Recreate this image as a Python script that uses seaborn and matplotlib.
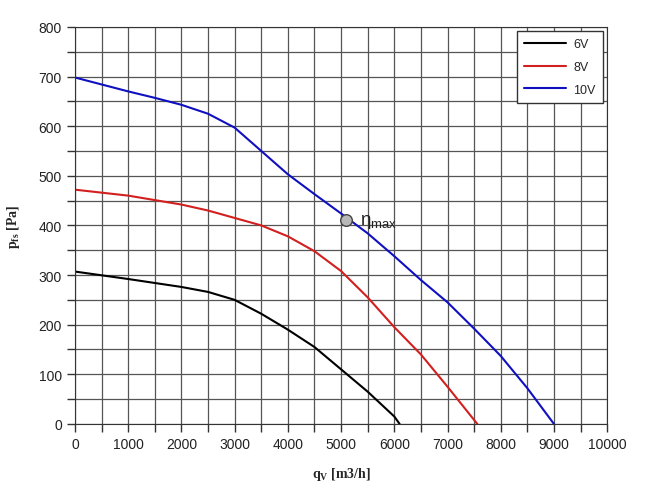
import pandas as pd
import matplotlib.pyplot as plt
import seaborn as sns
from matplotlib.ticker import MultipleLocator

# Fan curves (q_V in m3/h, p_fs in Pa)
q_6v = [0, 1000, 2000, 2500, 3000, 3500, 4000, 4500, 5000, 5500, 6000, 6100]
p_6v = [307, 292, 276, 266, 250, 222, 190, 155, 110, 65, 15, 0]

q_8v = [0, 1000, 2000, 2500, 3000, 3500, 4000, 4500, 5000, 5500, 6000, 6500, 7000, 7500, 7560]
p_8v = [472, 460, 442, 430, 415, 400, 378, 348, 308, 255, 195, 140, 75, 8, 0]

q_10v = [0, 500, 1000, 1500, 2000, 2500, 3000, 3500, 4000, 4500, 5000, 5500, 6000, 6500, 7000, 7500, 8000, 8500, 9000]
p_10v = [698, 684, 670, 657, 643, 625, 597, 550, 503, 463, 424, 384, 338, 290, 245, 192, 137, 72, 0]

eta_q = [5100]
eta_p = [410]

frames = []
for name, q, p in [("6V", q_6v, p_6v), ("8V", q_8v, p_8v), ("10V", q_10v, p_10v)]:
    frames.append(pd.DataFrame({"q": q, "p": p, "voltage": name}))
df = pd.concat(frames, ignore_index=True)

sns.set_style("white")
plt.rcParams["font.family"] = ["Liberation Sans", "DejaVu Sans"]
plt.rcParams["mathtext.fontset"] = "custom"
plt.rcParams["mathtext.rm"] = "Liberation Serif:bold"
plt.rcParams["mathtext.it"] = "Liberation Serif:bold"
plt.rcParams["mathtext.sf"] = "Liberation Sans"

fig = plt.figure(figsize=(6.48, 4.89), dpi=100)
ax = fig.add_axes([0.1157, 0.131, 0.8213, 0.812])

sns.lineplot(data=df, x="q", y="p", hue="voltage", sort=False,
             palette={"6V": "#000000", "8V": "#d21f1f", "10V": "#1010c0"},
             linewidth=1.5, ax=ax)

ax.scatter(eta_q, eta_p, s=70, color="#b8b8b8", edgecolor="#444444", linewidth=1, zorder=5)
ax.text(eta_q[0] + 250, eta_p[0] - 2, r"$\mathsf{\eta_{max}}$", fontsize=13.5, va="center",
        color="#222222")

ax.set_xlim(0, 10000)
ax.set_ylim(0, 800)
ax.xaxis.set_major_locator(MultipleLocator(1000))
ax.xaxis.set_minor_locator(MultipleLocator(500))
ax.yaxis.set_major_locator(MultipleLocator(100))
ax.yaxis.set_minor_locator(MultipleLocator(50))
ax.grid(True, which="both", color="#555555", linewidth=0.9)
ax.set_axisbelow(True)
ax.tick_params(which="both", direction="out", length=6, width=1, color="#333333",
               labelsize=10, labelcolor="#222222", bottom=True, left=True)
for s in ax.spines.values():
    s.set_color("#333333")

ax.set_xlabel(r"$\mathrm{q_V}$ [m3/h]", fontfamily="Liberation Serif", fontweight="bold",
              fontsize=10, labelpad=10)
ax.set_ylabel(r"$\mathrm{p_{fs}}$ [Pa]", fontfamily="Liberation Serif", fontweight="bold",
              fontsize=10, labelpad=12)

leg = ax.legend(title=None, loc="upper right", bbox_to_anchor=(0.997, 0.996),
                handlelength=3.3, handletextpad=0.6, labelspacing=0.85,
                fancybox=False, framealpha=1, edgecolor="#333333", fontsize=9,
                borderpad=0.6, borderaxespad=0.2)
leg.get_frame().set_linewidth(1)

fig.savefig("out.png", dpi=100)
